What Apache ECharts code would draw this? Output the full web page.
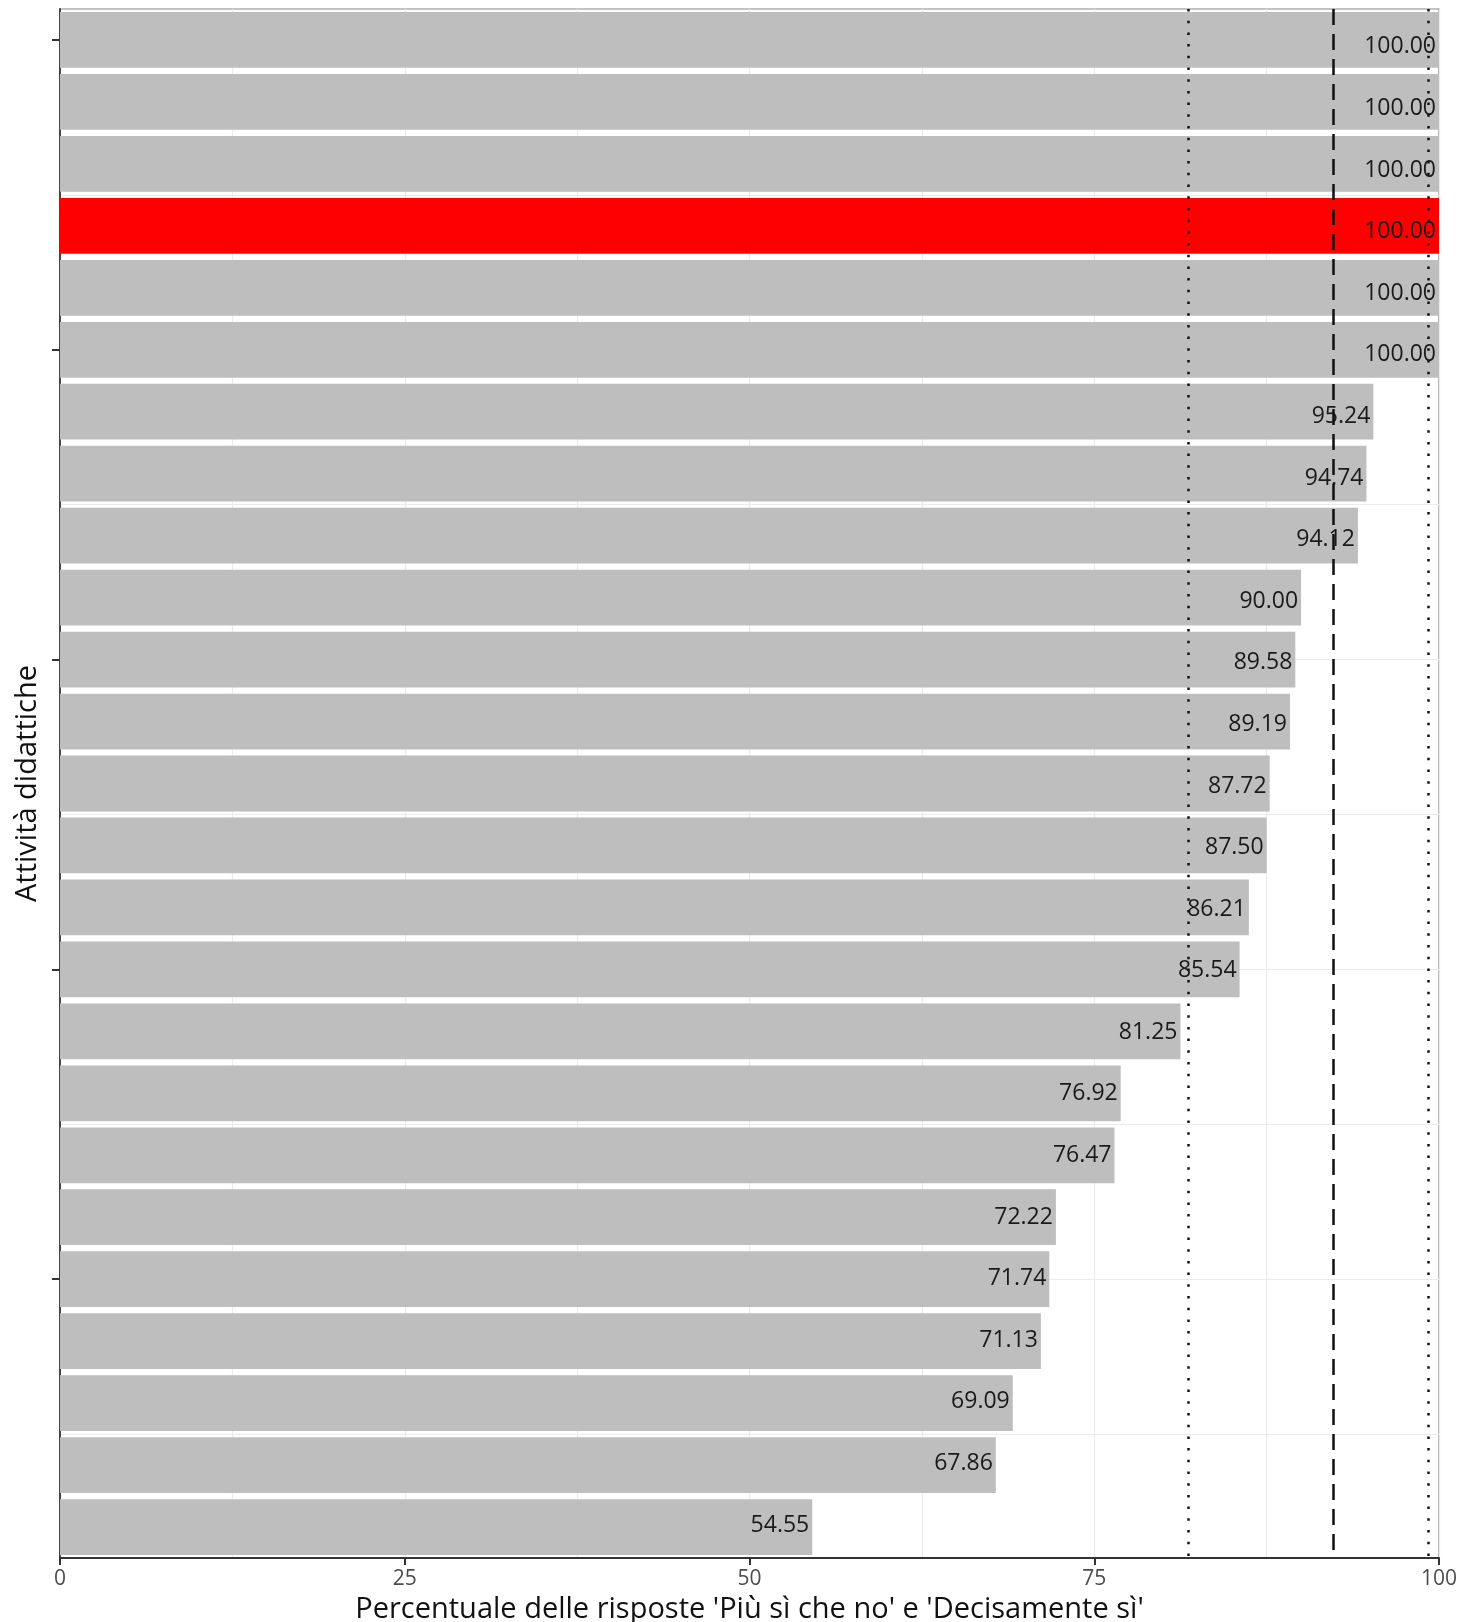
<!DOCTYPE html>
<html>
<head>
<meta charset="utf-8">
<script src="https://cdn.jsdelivr.net/npm/echarts@6/dist/echarts.min.js"></script>
<style>
  html, body { margin: 0; padding: 0; background: #fff; }
  #chart { width: 1456px; height: 1622px; overflow: hidden; }
</style>
</head>
<body>
<div id="chart"></div>
<script>
// categories top to bottom (labels are hidden in the original)
const categories = [
  'Attività 01', 'Attività 02', 'Attività 03', 'Attività 04', 'Attività 05',
  'Attività 06', 'Attività 07', 'Attività 08', 'Attività 09', 'Attività 10',
  'Attività 11', 'Attività 12', 'Attività 13', 'Attività 14', 'Attività 15',
  'Attività 16', 'Attività 17', 'Attività 18', 'Attività 19', 'Attività 20',
  'Attività 21', 'Attività 22', 'Attività 23', 'Attività 24', 'Attività 25'
]
const values = [
  100, 100, 100, 100, 100, 100, 95.24, 94.74, 94.12, 90.00,
  89.58, 89.19, 87.72, 87.50, 86.21, 85.54, 81.25, 76.92, 76.47, 72.22,
  71.74, 71.13, 69.09, 67.86, 54.55
]
const highlighted = ['Attività 04']
const xTicks = [0, 25, 50, 75, 100]
const refDotted = [81.85, 99.25]
const refDashed = [92.35]

const plot = { left: 60, top: 9, width: 1379, height: 1549 }
const band = plot.height / categories.length
const font = 'Open Sans'

const chart = echarts.init(document.getElementById('chart'), null, { renderer: 'canvas' })

// labels in the original drift slightly from the bar centres, top to bottom
const data = values.map((v, i) => ({
  value: v,
  itemStyle: { color: highlighted.includes(categories[i]) ? '#ff0000' : '#bebebe' },
  label: { offset: [0, 6.9 - 0.37 * i] },
}))

const refLines = [
  ...refDotted.map(x => ({ xAxis: x, lineStyle: { type: [2.5, 9.2] } })),
  ...refDashed.map(x => ({ xAxis: x, lineStyle: { type: [16, 9] } })),
]

const option = {
  animation: false,
  backgroundColor: '#fff',
  grid: [
    {
      left: plot.left, top: plot.top, width: plot.width, height: plot.height,
      outerBoundsMode: 'none', containLabel: false,
      show: true, borderColor: '#858585', borderWidth: 1.2, backgroundColor: 'transparent',
    },
    // helper grid for the horizontal gridlines (positions 2.5 .. 25, top bar = 25)
    {
      left: plot.left, top: plot.top + 0.5 * band, width: plot.width, height: 22.5 * band,
      outerBoundsMode: 'none', containLabel: false,
    },
  ],
  xAxis: [
    {
      type: 'value', min: xTicks[0], max: xTicks[xTicks.length - 1], interval: 25,
      name: "Percentuale delle risposte 'Più sì che no' e 'Decisamente sì'",
      nameLocation: 'middle', nameGap: 36,
      nameTextStyle: { fontFamily: font, fontSize: 29, color: '#111' },
      axisLine: { show: true, lineStyle: { color: '#333', width: 2 } },
      axisTick: { show: true, length: 7, lineStyle: { color: '#333', width: 2 } },
      axisLabel: { fontFamily: font, fontSize: 21, color: '#4d4d4d', margin: 11 },
      splitLine: { show: true, lineStyle: { color: '#ebebeb', width: 1.2 } },
      minorTick: { show: false, splitNumber: 2 },
      minorSplitLine: { show: true, lineStyle: { color: '#ebebeb', width: 1.2 } },
    },
    { type: 'value', gridIndex: 1, show: false, min: 0, max: 100 },
  ],
  yAxis: [
    {
      type: 'category', data: categories, inverse: true,
      name: 'Attività didattiche', nameLocation: 'middle', nameGap: 18, nameRotate: 90,
      nameTextStyle: { fontFamily: font, fontSize: 29, color: '#111' },
      axisLine: { show: true, lineStyle: { color: '#444', width: 2 } },
      axisTick: {
        show: true, alignWithLabel: true, length: 8,
        interval: (index) => index % 5 === 0,
        lineStyle: { color: '#333', width: 2 },
      },
      axisLabel: { show: false },
      splitLine: { show: false },
    },
    {
      type: 'value', gridIndex: 1, min: 2.5, max: 25, interval: 2.5,
      axisLine: { show: false }, axisTick: { show: false }, axisLabel: { show: false },
      splitLine: { show: true, lineStyle: { color: '#ebebeb', width: 1.2 } },
    },
  ],
  series: [
    {
      type: 'bar',
      data,
      barCategoryGap: '10%',
      label: {
        show: true,
        position: 'insideRight',
        distance: 3,
        fontFamily: font,
        fontSize: 23,
        color: '#1a1a1a',
        formatter: (p) => Number(p.value).toFixed(2),
      },
      markLine: {
        silent: true,
        symbol: 'none',
        label: { show: false },
        lineStyle: { color: '#111', width: 2.5 },
        data: refLines,
      },
    },
  ],
}

chart.setOption(option)
</script>
</body>
</html>
